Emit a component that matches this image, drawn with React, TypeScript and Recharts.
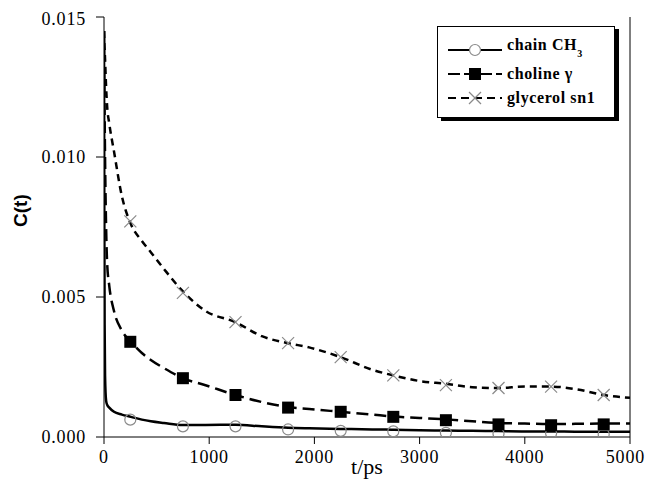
import { ComposedChart, Line, Scatter, XAxis, YAxis } from "recharts";

const times = [
  0, 3, 6, 10, 20, 30, 50, 95, 170, 256, 360, 445, 570, 750, 965, 1250, 1500,
  1750, 1950, 2250, 2550, 2750, 3000, 3250, 3500, 3750, 4000, 4250, 4500, 4750,
  5000,
];
const chainLine = [
  0.0145, 0.008, 0.004, 0.0022, 0.0013, 0.00115, 0.00105, 0.0009, 0.0008,
  0.00072, 0.00062, 0.00056, 0.0005, 0.00043, 0.00043, 0.00044, 0.00038,
  0.00033, 0.00031, 0.00029, 0.00027, 0.00026, 0.00024, 0.00023, 0.00022,
  0.00021, 0.0002, 0.0002, 0.00019, 0.00019, 0.00019,
];
const cholineLine = [
  0.0145, 0.013, 0.0115, 0.01, 0.0075, 0.0062, 0.0054, 0.0045, 0.0038, 0.0034,
  0.003, 0.00275, 0.00246, 0.0021, 0.00185, 0.0015, 0.00125, 0.00107, 0.001,
  0.0009, 0.0008, 0.00073, 0.00068, 0.00063, 0.00056, 0.0005, 0.00048, 0.00046,
  0.00047, 0.00048, 0.00048,
];
const glycerolLine = [
  0.0145, 0.0142, 0.0139, 0.0135, 0.0125, 0.0118, 0.0112, 0.0102, 0.0086,
  0.0076, 0.007, 0.0066, 0.006, 0.0052, 0.0045, 0.0041, 0.0036, 0.00335,
  0.0032, 0.00285, 0.0024, 0.0022, 0.002, 0.0019, 0.00178, 0.00175, 0.0018,
  0.0018, 0.0017, 0.0015, 0.0014,
];

const markerTimes = [250, 750, 1250, 1750, 2250, 2750, 3250, 3750, 4250, 4750];
const chainMarks = [
  0.00062, 0.00038, 0.00038, 0.00027, 0.00022, 0.0002, 0.00015, 0.00012,
  0.00013, 0.0001,
];
const cholineMarks = [
  0.0034, 0.0021, 0.0015, 0.00105, 0.0009, 0.00072, 0.0006, 0.00045, 0.00042,
  0.00045,
];
const glycerolMarks = [
  0.0077, 0.00515, 0.0041, 0.00335, 0.00285, 0.0022, 0.00185, 0.00175, 0.0018,
  0.0015,
];

const xTicks = [0, 1000, 2000, 3000, 4000, 5000];
const yTicks = [0, 0.005, 0.01, 0.015];

const lineData = times.map((t, i) => ({
  t,
  chain: chainLine[i],
  choline: cholineLine[i],
  glycerol: glycerolLine[i],
}));
const chainPts = markerTimes.map((t, i) => ({ t, v: chainMarks[i] }));
const cholinePts = markerTimes.map((t, i) => ({ t, v: cholineMarks[i] }));
const glycerolPts = markerTimes.map((t, i) => ({ t, v: glycerolMarks[i] }));

const SERIF = "Liberation Serif";

const CircleMark = (p: any) => (
  <circle cx={p.cx} cy={p.cy} r={5.5} fill="none" stroke="#8a8a8a" strokeWidth={1.2} />
);
const SquareMark = (p: any) => (
  <rect x={p.cx - 6} y={p.cy - 6} width={12} height={12} fill="#000" />
);
const CrossMark = (p: any) => (
  <g stroke="#8a8a8a" strokeWidth={1.2}>
    <line x1={p.cx - 6} y1={p.cy - 6} x2={p.cx + 6} y2={p.cy + 6} />
    <line x1={p.cx - 6} y1={p.cy + 6} x2={p.cx + 6} y2={p.cy - 6} />
  </g>
);

function LegendBox() {
  const row = (
    dash: string | undefined,
    mark: JSX.Element,
    label: JSX.Element,
    top: number
  ) => (
    <div style={{ position: "absolute", left: 10, top, display: "flex", alignItems: "center" }}>
      <svg width={56} height={16}>
        <line x1={0} y1={8} x2={54} y2={8} stroke="#000" strokeWidth={2.2} strokeDasharray={dash} />
        {mark}
      </svg>
      <span style={{ marginLeft: 3, fontFamily: SERIF, fontWeight: "bold", fontSize: 16, letterSpacing: 0.6, lineHeight: "16px" }}>
        {label}
      </span>
    </div>
  );
  return (
    <div
      style={{
        position: "absolute",
        left: 429,
        top: 18,
        width: 178,
        height: 92,
        border: "1.5px solid #000",
        boxShadow: "4px 3px 0 #000",
        background: "#fff",
        boxSizing: "border-box",
      }}
    >
      {row(
        undefined,
        <circle cx={27} cy={8} r={5.5} fill="#fff" stroke="#8a8a8a" strokeWidth={1.2} />,
        <>
          chain CH<sub style={{ fontSize: 10, verticalAlign: -7 }}>3</sub>
        </>,
        10
      )}
      {row("12 4", <rect x={21} y={2} width={12} height={12} fill="#000" />, <>choline γ</>, 39)}
      {row(
        "8 5",
        <g stroke="#8a8a8a" strokeWidth={1.2}>
          <line x1={21} y1={2} x2={33} y2={14} />
          <line x1={21} y1={14} x2={33} y2={2} />
        </g>,
        <>glycerol sn1</>,
        63
      )}
    </div>
  );
}

export default function App() {
  return (
    <div style={{ position: "relative", width: 637, height: 473, fontFamily: SERIF }}>
      <ComposedChart
        width={637}
        height={473}
        data={lineData}
        margin={{ top: 9, right: 14, left: 0, bottom: 0 }}
      >
        <XAxis
          dataKey="t"
          type="number"
          domain={[0, 5000]}
          ticks={xTicks}
          allowDataOverflow
          stroke="#000"
          tickSize={7}
          tickMargin={6}
          height={44}
          tick={{ fill: "#000", fontFamily: SERIF, fontSize: 18, letterSpacing: 0.8 }}
          label={{ value: "t/ps", position: "insideBottom", offset: 7, fill: "#000", fontFamily: SERIF, fontSize: 22 }}
        />
        <XAxis xAxisId="top" orientation="top" type="number" domain={[0, 5000]} tick={false} tickLine={false} height={0} stroke="#000" />
        <YAxis
          type="number"
          domain={[0, 0.015]}
          ticks={yTicks}
          allowDataOverflow
          stroke="#000"
          width={96}
          tickSize={8}
          tickMargin={10}
          tickFormatter={(v: number) => v.toFixed(3)}
          tick={{ fill: "#000", fontFamily: SERIF, fontSize: 18, letterSpacing: 0.8 }}
          label={{
            value: "C(t)",
            angle: -90,
            position: "insideLeft",
            offset: 12,
            fill: "#000",
            fontFamily: "Liberation Sans",
            fontWeight: "bold",
            fontSize: 19,
          }}
        />
        <YAxis yAxisId="right" orientation="right" type="number" domain={[0, 0.015]} tick={false} tickLine={false} width={1} stroke="#000" />
        <Line dataKey="chain" type="monotone" stroke="#000" strokeWidth={2.5} dot={false} isAnimationActive={false} />
        <Line dataKey="choline" type="monotone" stroke="#000" strokeWidth={2.5} strokeDasharray="12 6" dot={false} isAnimationActive={false} />
        <Line dataKey="glycerol" type="monotone" stroke="#000" strokeWidth={2.5} strokeDasharray="7 5" dot={false} isAnimationActive={false} />
        <Scatter data={chainPts} dataKey="v" shape={CircleMark} isAnimationActive={false} />
        <Scatter data={cholinePts} dataKey="v" shape={SquareMark} isAnimationActive={false} />
        <Scatter data={glycerolPts} dataKey="v" shape={CrossMark} isAnimationActive={false} />
      </ComposedChart>
      <LegendBox />
    </div>
  );
}
